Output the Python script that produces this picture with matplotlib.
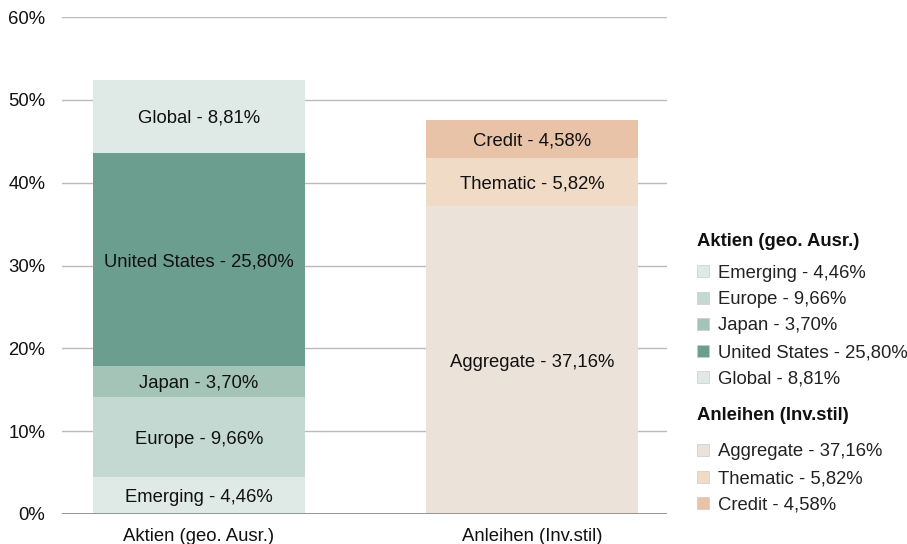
import matplotlib.pyplot as plt
from matplotlib.patches import Rectangle

plt.rcParams["font.family"] = ["Liberation Sans", "DejaVu Sans"]

categories = ["Aktien (geo. Ausr.)", "Anleihen (Inv.stil)"]

aktien_labels = ["Emerging", "Europe", "Japan", "United States", "Global"]
aktien_values = [4.46, 9.66, 3.70, 25.80, 8.81]
aktien_colors = ["#DFE9E5", "#C3D9D1", "#A4C4B8", "#6C9E90", "#DFE9E5"]

anleihen_labels = ["Aggregate", "Thematic", "Credit"]
anleihen_values = [37.16, 5.82, 4.58]
anleihen_colors = ["#EBE2DA", "#F0DBC7", "#E8C3A8"]

yticks = [0, 10, 20, 30, 40, 50, 60]

FS = 13.3
W, H = 907, 544
fig = plt.figure(figsize=(W / 100, H / 100), dpi=100)
ax = fig.add_axes([62 / W, 1 - 514 / H, 605 / W, 497 / H])


def fmt(v):
    return f"{v:.2f}".replace(".", ",") + "%"


def stack(x, labels, values, colors):
    bottom = 0.0
    for lab, v, c in zip(labels, values, colors):
        ax.bar(x, v, bottom=bottom, width=0.636, color=c, zorder=2)
        ax.text(x, bottom + v / 2, f"{lab} - {fmt(v)}", ha="center",
                va="center_baseline", fontsize=FS, color="#111111", zorder=3)
        bottom += v


stack(0, aktien_labels, aktien_values, aktien_colors)
stack(1, anleihen_labels, anleihen_values, anleihen_colors)

ax.set_xlim(-0.411, 1.405)
ax.set_ylim(0, 60)
ax.set_yticks(yticks)
ax.set_yticklabels([f"{t}%" for t in yticks])
ax.set_xticks([0, 1])
ax.set_xticklabels(categories)
ax.tick_params(axis="both", length=0, labelsize=FS, colors="#111111")
ax.tick_params(axis="y", pad=12)
ax.tick_params(axis="x", pad=10)
for s in ax.spines.values():
    s.set_visible(False)
ax.grid(axis="y", color="#BBBBBB", linewidth=1, zorder=0)
ax.axhline(0, color="#888888", linewidth=1.2, zorder=4)


# legend drawn by hand in pixel coordinates
def px(x, y):
    return x / W, 1 - y / H


def legend_entry(y, text, color):
    x0, y0 = px(697, y + 6)
    fig.patches.append(Rectangle((x0, y0), 12 / W, 12 / H, transform=fig.transFigure,
                                 facecolor=color, edgecolor="#CCCCCC", linewidth=0.5))
    fig.text(*px(718, y), text, ha="left", va="center_baseline", fontsize=FS,
             color="#222222")


fig.text(*px(697, 240), "Aktien (geo. Ausr.)", ha="left", va="center_baseline",
         fontsize=FS, fontweight="bold", color="#111111")
for i, (lab, v, c) in enumerate(zip(aktien_labels, aktien_values, aktien_colors)):
    legend_entry(271 + i * 26.5, f"{lab} - {fmt(v)}", c)

fig.text(*px(697, 414), "Anleihen (Inv.stil)", ha="left", va="center_baseline",
         fontsize=FS, fontweight="bold", color="#111111")
for i, (lab, v, c) in enumerate(zip(anleihen_labels, anleihen_values, anleihen_colors)):
    legend_entry(450 + i * 26.5, f"{lab} - {fmt(v)}", c)

fig.savefig("out.png", dpi=100)
